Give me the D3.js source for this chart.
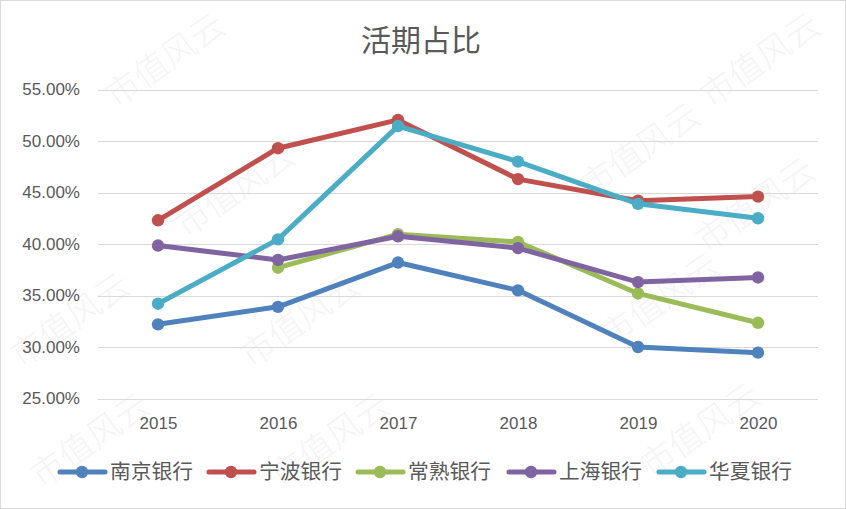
<!DOCTYPE html>
<html lang="zh">
<head>
  <meta charset="UTF-8">
  <title>活期占比</title>
  <style>
    body { margin: 0; background: #fff; }
    text { font-family: "Noto Sans CJK SC", "Noto Sans", sans-serif; }
  </style>
</head>
<body>
  <div id="chart"></div>
  <script src="https://cdn.jsdelivr.net/npm/d3@7"></script>
  <script>
    const years = ["2015", "2016", "2017", "2018", "2019", "2020"];
    const yTicks = [25, 30, 35, 40, 45, 50, 55];
    const bankNames = ["南京银行", "宁波银行", "常熟银行", "上海银行", "华夏银行"];
    const nanjing = [32.2, 33.9, 38.2, 35.5, 30.0, 29.45];
    const ningbo = [42.3, 49.3, 52.05, 46.3, 44.2, 44.6];
    const changshu = [null, 37.7, 40.95, 40.2, 35.2, 32.35];
    const shanghai = [39.85, 38.45, 40.75, 39.6, 36.3, 36.75];
    const huaxia = [34.2, 40.45, 51.45, 48.0, 43.9, 42.5];
    const colors = ["#4f81bd", "#c0504d", "#9bbb59", "#8064a2", "#4bacc6"];
    const watermarks = [[165, 60], [235, 190], [300, 320], [640, 150], [660, 300], [760, 60], [755, 205], [70, 320], [90, 440], [330, 440], [700, 430]];

    const W = 846, H = 509;
    const svg = d3.select("#chart").append("svg")
      .attr("width", W).attr("height", H);

    svg.append("rect").attr("x", 0.5).attr("y", 0.5)
      .attr("width", W - 1).attr("height", H - 1)
      .attr("fill", "#fff").attr("stroke", "#d9d9d9");

    // watermark
    svg.append("g").selectAll("text").data(watermarks).enter().append("text")
      .attr("transform", d => `translate(${d[0]},${d[1]}) rotate(-35)`)
      .attr("text-anchor", "middle").attr("dy", "0.35em")
      .attr("font-size", 34).attr("font-weight", 300)
      .attr("fill", "#000").attr("opacity", 0.04)
      .text("市值风云");

    const x = d3.scalePoint().domain(years).range([98, 818]).padding(0.5);
    const y = d3.scaleLinear().domain([25, 55]).range([398.5, 89.5]);

    // gridlines
    svg.append("g").selectAll("line").data(yTicks).enter().append("line")
      .attr("x1", 98).attr("x2", 818)
      .attr("y1", d => Math.round(y(d)) + 0.5).attr("y2", d => Math.round(y(d)) + 0.5)
      .attr("stroke", "#d9d9d9").attr("stroke-width", 1);

    // y axis labels
    const yAxis = svg.append("g").attr("transform", "translate(80,0)")
      .call(d3.axisLeft(y).tickValues(yTicks).tickSize(0).tickPadding(0)
        .tickFormat(d => d.toFixed(2) + "%"));
    yAxis.select(".domain").remove();
    yAxis.selectAll("text").attr("font-size", 17).attr("fill", "#595959")
      .style("font-family", "'Liberation Sans', Arial, sans-serif");

    // x axis labels
    const xAxis = svg.append("g").attr("transform", "translate(0,417)")
      .call(d3.axisBottom(x).tickSize(0).tickPadding(0));
    xAxis.select(".domain").remove();
    xAxis.selectAll("text").attr("font-size", 17).attr("fill", "#595959")
      .style("font-family", "'Liberation Sans', Arial, sans-serif");

    // title
    svg.append("text").attr("x", 421).attr("y", 51).attr("text-anchor", "middle")
      .attr("font-size", 30).attr("fill", "#595959").text("活期占比");

    const seriesData = [nanjing, ningbo, changshu, shanghai, huaxia];
    const line = d3.line()
      .defined(d => d.v != null)
      .x(d => x(d.year)).y(d => y(d.v));

    seriesData.forEach((vals, i) => {
      const pts = years.map((yr, j) => ({ year: yr, v: vals[j] }));
      svg.append("path").datum(pts)
        .attr("d", line).attr("fill", "none")
        .attr("stroke", colors[i]).attr("stroke-width", 5)
        .attr("stroke-linejoin", "round").attr("stroke-linecap", "round");
      svg.append("g").selectAll("circle").data(pts.filter(d => d.v != null))
        .enter().append("circle")
        .attr("cx", d => x(d.year)).attr("cy", d => y(d.v))
        .attr("r", 6.2).attr("fill", colors[i]);
    });

    // legend
    const legendX = [58, 207, 356, 507, 657];
    const legend = svg.append("g").attr("transform", "translate(0,472)");
    bankNames.forEach((name, i) => {
      const g = legend.append("g").attr("transform", `translate(${legendX[i]},0)`);
      g.append("line").attr("x1", 2).attr("x2", 47).attr("y1", 0).attr("y2", 0)
        .attr("stroke", colors[i]).attr("stroke-width", 5).attr("stroke-linecap", "round");
      g.append("circle").attr("cx", 24).attr("cy", 0).attr("r", 6.2).attr("fill", colors[i]);
      g.append("text").attr("x", 52).attr("y", 0).attr("dy", "0.36em")
        .attr("font-size", 20.5).attr("fill", "#595959")
        .attr("textLength", 83).attr("lengthAdjust", "spacingAndGlyphs")
        .text(name);
    });
  </script>
</body>
</html>
